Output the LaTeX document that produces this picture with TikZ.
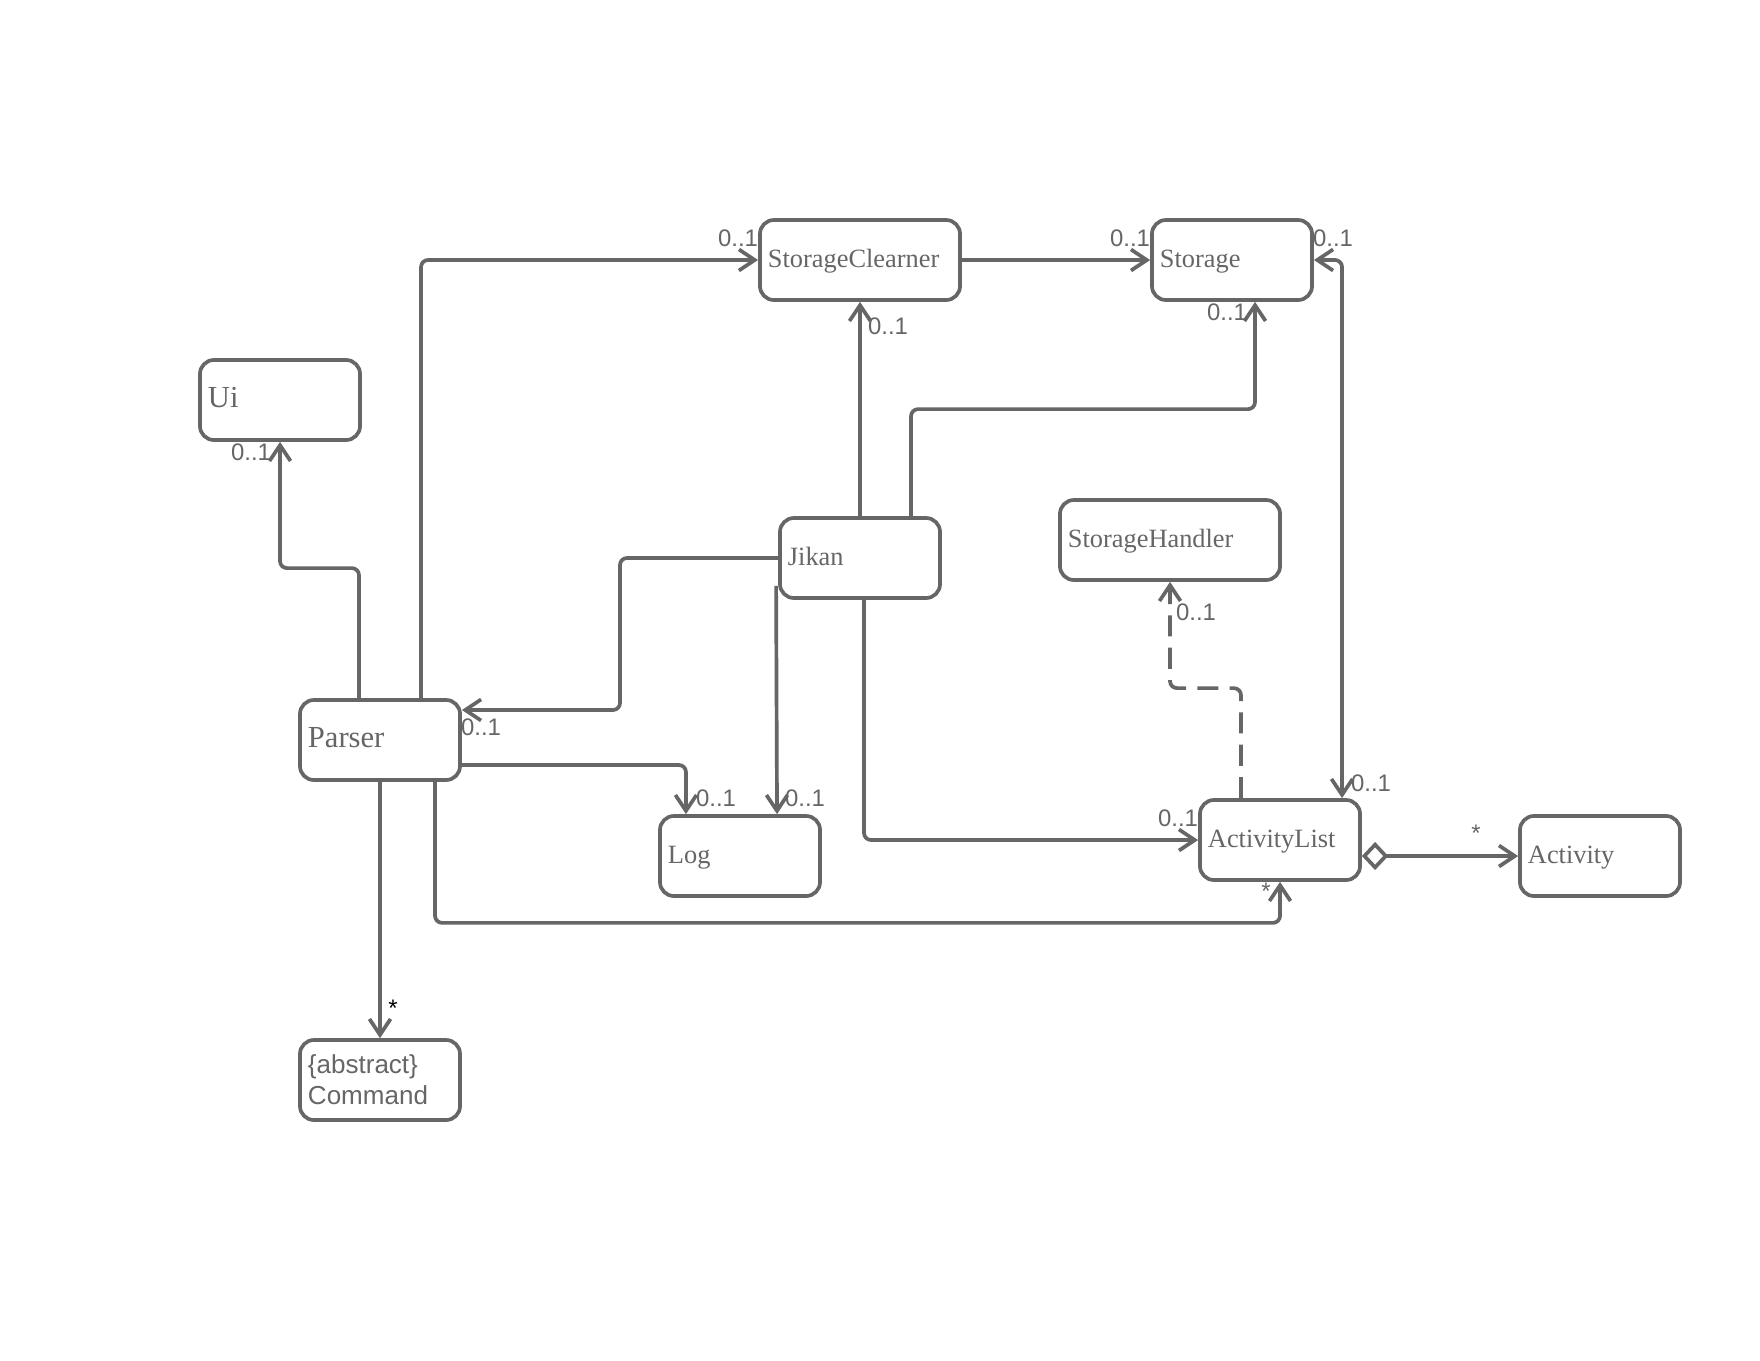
\documentclass[tikz,border=0pt]{standalone}
\usepackage{fontspec}
\setmainfont{Liberation Serif}
\setsansfont{Liberation Sans}
\usetikzlibrary{arrows.meta}

\definecolor{umlgray}{HTML}{666666}

\tikzset{
  umlbox/.style={draw=umlgray, line width=1.05pt, rounded corners=4pt,
    minimum height=0.8cm, inner xsep=0.08cm, align=left, text=umlgray,
    text width=#1},
  umlbox/.default=1.44cm,
  classbox/.style={umlbox=#1, font=\fontsize{7.5}{9}\selectfont,
    text height=0.7em, text depth=0.3em},
  classbox/.default=1.44cm,
  bigname/.style={font=\fontsize{8.7}{10}\selectfont},
  assoc/.style={draw=umlgray, line width=1.05pt, rounded corners=2pt, ->},
  mult/.style={font=\sffamily\fontsize{6.8}{7.5}\selectfont, text=umlgray, inner sep=0pt},
}

\begin{document}
\begin{tikzpicture}[
    x=0.01cm, y=-0.01cm,
    line join=round,
    >={Straight Barb[length=4.5pt,width=6pt]},
  ]
  \fill[white] (0,0) rectangle (1760,1360);
  \useasboundingbox (0,0) rectangle (1760,1360);

  % Classes
  \node[classbox, bigname] (Ui) at (280,400) {Ui};
  \node[classbox=1.84cm] (StorageClearner) at (860,260) {StorageClearner};
  \node[classbox] (Storage) at (1232,260) {Storage};
  \node[classbox] (Jikan) at (860,558) {Jikan};
  \node[classbox=2.04cm] (StorageHandler) at (1170,540) {StorageHandler};
  \node[classbox, bigname] (Parser) at (380,740) {Parser};
  \node[classbox] (Log) at (740,856) {Log};
  \node[classbox] (ActivityList) at (1280,840) {ActivityList};
  \node[classbox] (Activity) at (1600,856) {Activity};
  \node[umlbox, font=\sffamily\fontsize{7.4}{8.8}\selectfont] (Command) at (380,1080) {\{abstract\}\\Command};

  % Associations from Parser
  \draw[assoc] ([xshift=-0.21cm]Parser.north) -- ++(0,-130) -| (Ui.south);
  \draw[assoc] ([xshift=0.41cm]Parser.north) |- (StorageClearner.west);
  \draw[assoc] ([yshift=-0.25cm]Parser.east) -| ([xshift=-0.54cm]Log.north);
  \draw[assoc] ([xshift=0.55cm]Parser.south) -- ++(0,141) -| (ActivityList.south);
  \draw[assoc] (Parser.south) -- (Command.north);

  % Associations from Jikan
  \draw[assoc] (Jikan.north) -- (Jikan.north |- StorageClearner.south);
  \draw[assoc] ([xshift=0.51cm]Jikan.north) -- ++(0,-107) -| ([xshift=0.23cm]Storage.south);
  \draw[assoc] (Jikan.west) -| (620,710) -- ([yshift=0.3cm]Parser.east);
  \draw[assoc] ([shift={(-0.02cm,0.14cm)}]Jikan.south west) -- ([xshift=0.37cm]Log.north);
  \draw[assoc] ([xshift=0.04cm]Jikan.south) |- (ActivityList.west);

  % Storage side
  \draw[assoc] (StorageClearner.east) -- (Storage.west);
  \draw[assoc, <->] (Storage.east) -| ([xshift=0.62cm]ActivityList.north);
  \draw[assoc, dash pattern=on 6pt off 3.2pt] ([xshift=-0.39cm]ActivityList.north) -- ++(0,-110) -| (StorageHandler.south);

  % Aggregation
  \draw[assoc, {Diamond[open,length=7.5pt,width=8pt]}->] (ActivityList.east |- Activity.west) -- (Activity.west);

  % Multiplicities
  \node[mult] (mUi) at (251,452) {0..1};
  \node[mult] (mClearerIn) at (738,238) {0..1};
  \node[mult] (mStorageIn) at (1130,238) {0..1};
  \node[mult] (mStorageRight) at (1333,238) {0..1};
  \node[mult] (mClearerDown) at (888,326) {0..1};
  \node[mult] (mStorageDown) at (1227,312) {0..1};
  \node[mult] (mHandler) at (1196,612) {0..1};
  \node[mult] (mListTop) at (1371,783) {0..1};
  \node[mult] (mListLeft) at (1178,818) {0..1};
  \node[mult] (mActivity) at (1476,833) {*};
  \node[mult] (mListDown) at (1266,891) {*};
  \node[mult] (mParser) at (481,727) {0..1};
  \node[mult] (mLogLeft) at (716,798) {0..1};
  \node[mult] (mLogRight) at (805,798) {0..1};
  \node[mult, text=black] (mCommand) at (393,1008) {*};
\end{tikzpicture}
\end{document}
